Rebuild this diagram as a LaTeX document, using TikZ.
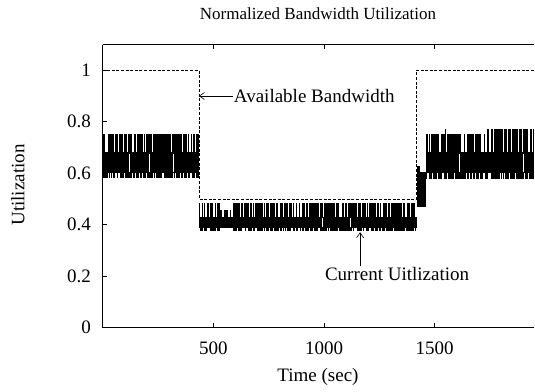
\documentclass[tikz,border=0pt]{standalone}
\usepackage{fontspec}
\setmainfont{Liberation Serif}
\usetikzlibrary{arrows.meta}

\tikzset{
  lbl/.style={font=\fontsize{19}{22}\selectfont, inner sep=0pt},
  ttl/.style={font=\fontsize{17}{20}\selectfont, inner sep=0pt},
  frame/.style={line width=0.9pt},
  tick/.style={line width=0.6pt},
  avail/.style={line width=0.6pt, dash pattern=on 3pt off 1.6pt},
  bar/.style={line width=0.4pt},
  gap/.style={line width=0.5pt, white},
  pointer/.style={line width=0.6pt, -{Straight Barb[length=5pt,width=7pt]}}
}

\begin{document}
\begin{tikzpicture}[x=1pt, y=-1pt]
  \useasboundingbox (0,0) rectangle (535,391);
  \fill[white] (0,0) rectangle (535,391);

  % plot area: origin (t=0,u=0) at (102.6,327.3)
  \begin{scope}[shift={(102.6,327.3)}, x=0.2214pt, y=257pt]
    \pgfmathsetseed{4127}

    % ---- current utilization, first phase (0-435 s)
    \fill (0,0.600) rectangle (435,0.682);
    \foreach \t in {1,3,...,433}{
      \pgfmathsetmacro\ra{rnd}
      \pgfmathsetmacro\rb{rnd}
      \ifdim\ra pt<0.45pt \draw[bar] (\t,0.68) -- (\t,0.751); \fi
      \ifdim\rb pt<0.45pt \draw[bar] (\t,0.61) -- (\t,0.580); \fi
    }
    \foreach \t in {120,210,317}{ \draw[gap] (\t,0.605) -- (\t,0.675); }

    % ---- second phase (435-1418 s)
    \fill (435,0.388) rectangle (1418,0.429);
    \foreach \t in {436,438,...,1416}{
      \pgfmathsetmacro\ra{rnd}
      \pgfmathsetmacro\rb{rnd}
      \ifdim\t pt>530pt \ifdim\t pt<592pt
          % short dip: lower peaks, no low excursions
          \ifdim\ra pt<0.45pt \draw[bar] (\t,0.42) -- (\t,0.455); \fi
        \else
          \ifdim\ra pt<0.45pt \draw[bar] (\t,0.42) -- (\t,0.485); \fi
          \ifdim\rb pt<0.42pt \draw[bar] (\t,0.39) -- (\t,0.375); \fi
        \fi
      \else
        \ifdim\ra pt<0.45pt \draw[bar] (\t,0.42) -- (\t,0.485); \fi
        \ifdim\rb pt<0.42pt \draw[bar] (\t,0.39) -- (\t,0.375); \fi
      \fi
    }
    \foreach \t in {994,1117}{ \draw[gap] (\t,0.392) -- (\t,0.425); }

    % ---- transition (1418-1460 s)
    \fill (1420,0.468) rectangle (1460,0.605);
    \fill (1420,0.600) rectangle (1433,0.626);

    % ---- third phase (1460-1950 s)
    \fill (1459,0.600) rectangle (1948,0.682);
    \foreach \t in {1461,1463,...,1947}{
      \pgfmathsetmacro\ra{rnd}
      \pgfmathsetmacro\rb{rnd}
      \ifdim\ra pt<0.45pt
        \ifdim\t pt<1727pt \draw[bar] (\t,0.68) -- (\t,0.751);
        \else \draw[bar] (\t,0.68) -- (\t,0.771); \fi
      \fi
      \ifdim\rb pt<0.45pt \draw[bar] (\t,0.61) -- (\t,0.576); \fi
    }
    \draw[bar] (1546,0.68) -- (1546,0.771);
    \foreach \t in {1611,1900}{ \draw[gap] (\t,0.605) -- (\t,0.675); }

    % ---- available bandwidth
    \draw[avail] (0,1) -- (435,1) -- (435,0.5) -- (1418,0.5) -- (1418,1) -- (1950,1);

    % ---- frame and ticks
    \draw[frame] (0,1.1) -- (0,0) -- (1950,0);
    \draw[frame] (0,1.1) -- (1950,1.1);
    \foreach \v/\s in {0/0,0.2/0.2,0.4/0.4,0.6/0.6,0.8/0.8,1/1}{
      \draw[tick] (0,\v) -- ++(4pt,0);
      \node[lbl, anchor=east] (y\v) at ([xshift=-11.5pt]0,\v) {\s};
    }
    \foreach \t in {500,1000,1500}{
      \draw[tick] (\t,0) -- ++(0,4pt);
      \draw[tick] (\t,1.1) -- ++(0,-4pt);
      \node[lbl] (x\t) at ([yshift=-20.7pt]\t,0) {\t};
    }

    % ---- annotations
    \coordinate (availtip) at (435,0.900);
    \node[lbl, anchor=west, inner sep=1pt] (availlbl) at (588,0.900) {Available Bandwidth};
    \draw[pointer] (availlbl.west) -- (availtip);

    \coordinate (curtip) at (1163,0.370);
    \node[lbl, inner sep=1pt] (curlbl) at (1330,0.207) {Current Uitlization};
    \draw[pointer] (curlbl.north -| curtip) -- (curtip);
  \end{scope}

  % titles
  \node[ttl] (title) at (318,14) {Normalized Bandwidth Utilization};
  \node[lbl, rotate=90] (ylab) at (18,185) {Utilization};
  \node[lbl] (xlab) at (318,377) {Time (sec)};
\end{tikzpicture}
\end{document}
